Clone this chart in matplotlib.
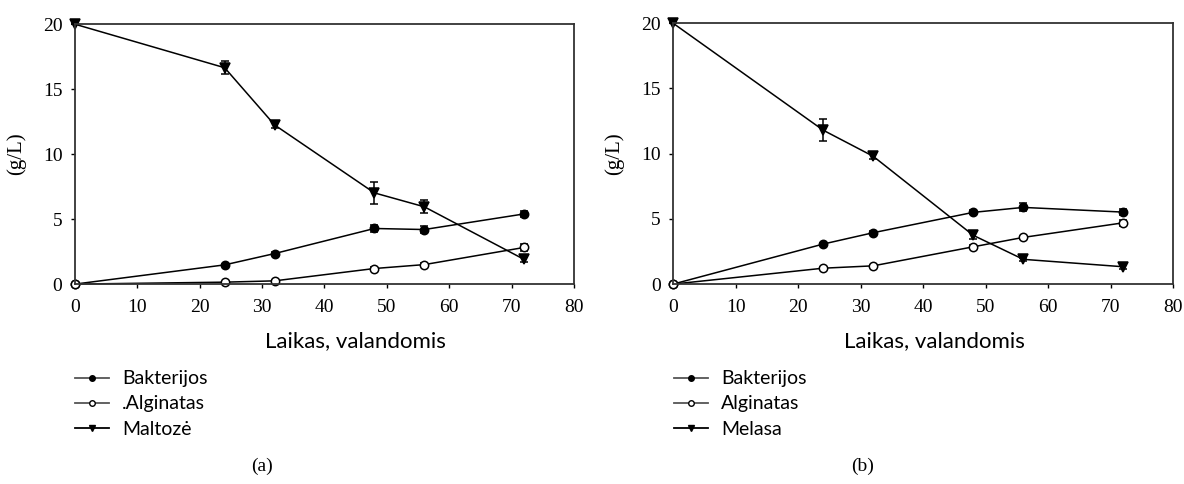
#!/usr/bin/env python3

import matplotlib
import matplotlib.pyplot as plt
import numpy as np
from matplotlib.lines import Line2D

matplotlib.use('Agg')

hours = [0, 24, 32, 48, 56, 72]

# (a) maltose medium
bakterijos_a = [0, 1.48, 2.35, 4.28, 4.2, 5.4]
bakterijos_a_err = [0, 0.05, 0.1, 0.3, 0.3, 0.2]
alginatas_a = [0, 0.15, 0.25, 1.2, 1.5, 2.82]
alginatas_a_err = [0, 0.05, 0.05, 0.1, 0.1, 0.25]
maltoze = [20, 16.65, 12.25, 7.02, 5.95, 1.9]
maltoze_err = [0, 0.5, 0.2, 0.85, 0.5, 0.2]

# (b) molasses medium
bakterijos_b = [0, 3.07, 3.94, 5.5, 5.88, 5.52]
bakterijos_b_err = [0, 0.1, 0.1, 0.15, 0.3, 0.25]
alginatas_b = [0, 1.22, 1.4, 2.86, 3.58, 4.7]
alginatas_b_err = [0, 0.1, 0.1, 0.1, 0.1, 0.25]
melasa = [20, 11.8, 9.8, 3.74, 1.9, 1.33]
melasa_err = [0, 0.85, 0.2, 0.25, 0.1, 0.2]

panels = [
    ('(a)', [('Bakterijos', bakterijos_a, bakterijos_a_err),
             ('.Alginatas', alginatas_a, alginatas_a_err),
             ('Maltozė', maltoze, maltoze_err)]),
    ('(b)', [('Bakterijos', bakterijos_b, bakterijos_b_err),
             ('Alginatas', alginatas_b, alginatas_b_err),
             ('Melasa', melasa, melasa_err)]),
]

serif = 'Liberation Serif'
sans = 'Lato'

fig = plt.figure(figsize=(11.84, 4.84), dpi=100)
axes_pos = [[0.0633, 0.413, 0.4215, 0.537], [0.5685, 0.413, 0.4225, 0.539]]
xlabel_x = [0.2998, 0.7893]
legend_x = [0.0633, 0.5693]
caption_x = [0.2213, 0.7289]

styles = [
    dict(marker='o', markerfacecolor='black', markersize=6),
    dict(marker='o', markerfacecolor='white', markersize=6),
    dict(marker='v', markerfacecolor='black', markersize=7),
]
legend_colors = ['#555555', '#555555', 'black']

for i, (caption, series) in enumerate(panels):
    ax = fig.add_axes(axes_pos[i])
    handles = []
    for (label, values, err), st, lc in zip(series, styles, legend_colors):
        ax.errorbar(hours, values, yerr=err, color='black', linewidth=1.1,
                    markeredgecolor='black', markeredgewidth=1.1,
                    capsize=3, elinewidth=1.1, clip_on=False, **st)
        handles.append(Line2D([], [], color=lc, linewidth=1.3, marker=st['marker'],
                              markerfacecolor=st['markerfacecolor'],
                              markeredgecolor='black', markeredgewidth=1,
                              markersize=st['markersize'] - 2, label=label))
    ax.set_xlim(0, 80)
    ax.set_ylim(0, 20)
    ax.set_xticks(np.arange(0, 81, 10))
    ax.set_yticks(np.arange(0, 21, 5))
    ax.tick_params(direction='out', length=3, width=1, labelsize=14)
    ax.tick_params(axis='x', pad=8)
    ax.tick_params(axis='y', pad=6)
    for lab in ax.get_xticklabels() + ax.get_yticklabels():
        lab.set_fontfamily(serif)
    for sp in ax.spines.values():
        sp.set_linewidth(1.3)
        sp.set_color('#333333')
    ax.set_ylabel('(g/L)', fontfamily=serif, fontsize=15, labelpad=12)

    fig.text(xlabel_x[i], 0.283, 'Laikas, valandomis', fontfamily=sans,
             fontsize=16, ha='center', va='baseline')

    ax.legend(handles=handles, loc='center left',
              bbox_to_anchor=(legend_x[i], 0.1653), bbox_transform=fig.transFigure,
              frameon=False, borderpad=0, borderaxespad=0,
              handlelength=1.75, handletextpad=0.67, labelspacing=0.42,
              prop={'family': sans, 'size': 14})

    fig.text(caption_x[i], 0.0372, caption, fontfamily=serif, fontsize=14,
             ha='center', va='center')

plt.savefig('out.png', dpi=100)
